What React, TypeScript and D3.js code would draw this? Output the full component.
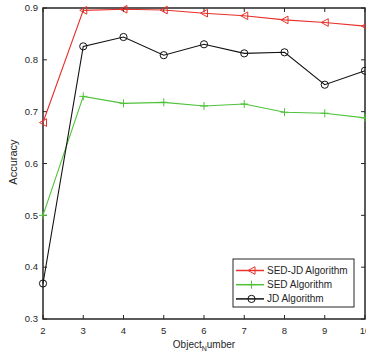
import React from 'react';
import * as d3 from 'd3';

const objectNumbers = [2, 3, 4, 5, 6, 7, 8, 9, 10];
const sedJd = [0.679, 0.8955, 0.8975, 0.896, 0.89, 0.885, 0.877, 0.872, 0.865];
const sed = [0.5, 0.7295, 0.716, 0.718, 0.711, 0.7147, 0.699, 0.697, 0.688];
const jd = [0.3685, 0.826, 0.844, 0.809, 0.83, 0.8125, 0.8145, 0.752, 0.779];
const yTicks = [0.3, 0.4, 0.5, 0.6, 0.7, 0.8, 0.9];
const legendNames = ['SED-JD Algorithm', 'SED Algorithm', 'JD Algorithm'];

const W = 366;
const H = 355;
const left = 43;
const right = 365;
const top = 8;
const bottom = 319;
const ink = '#262626';
const font = 'Liberation Sans, Arial, sans-serif';

const x = d3.scaleLinear().domain([2, 10]).range([left, right]);
const y = d3.scaleLinear().domain([0.3, 0.9]).range([bottom, top]);

const line = d3
    .line<number>()
    .x((d, i) => x(objectNumbers[i]))
    .y(d => y(d));

function Marker({kind, cx, cy, color}: {kind: string; cx: number; cy: number; color: string}) {
    if (kind === 'tri') {
        return <path d={`M${cx - 3.5},${cy} L${cx + 3.5},${cy - 3.8} L${cx + 3.5},${cy + 3.8} Z`} fill="none" stroke={color} strokeWidth={1} />;
    }
    if (kind === 'plus') {
        return <path d={`M${cx - 4},${cy} H${cx + 4} M${cx},${cy - 4} V${cy + 4}`} stroke={color} strokeWidth={1} />;
    }
    return <circle cx={cx} cy={cy} r={3.6} fill="none" stroke={color} strokeWidth={1} />;
}

const series = [
    {name: legendNames[0], values: sedJd, color: '#e8302a', kind: 'tri'},
    {name: legendNames[1], values: sed, color: '#4fc23a', kind: 'plus'},
    {name: legendNames[2], values: jd, color: '#111111', kind: 'circle'}
];

export default function App() {
    const lx = 233, ly = 259, lw = 121, lh = 48;
    return (
        <svg width={W} height={H} style={{position: 'absolute', left: 0, top: 0, background: '#fff'}}>
            <rect x={0} y={0} width={W} height={H} fill="#fff" />
            {/* ticks */}
            {yTicks.map(t => (
                <g key={'y' + t}>
                    <line x1={left} x2={left + 4} y1={y(t)} y2={y(t)} stroke={ink} />
                    <line x1={right} x2={right - 4} y1={y(t)} y2={y(t)} stroke={ink} />
                    <text x={left - 5} y={y(t)} dy="0.35em" textAnchor="end" fontSize={9.5} fontFamily={font} fill={ink}>
                        {d3.format('.1f')(t)}
                    </text>
                </g>
            ))}
            {objectNumbers.map(t => (
                <g key={'x' + t}>
                    <line x1={x(t)} x2={x(t)} y1={bottom} y2={bottom - 4} stroke={ink} />
                    <line x1={x(t)} x2={x(t)} y1={top} y2={top + 4} stroke={ink} />
                    <text x={x(t)} y={bottom + 15} textAnchor="middle" fontSize={9.5} fontFamily={font} fill={ink}>
                        {t}
                    </text>
                </g>
            ))}
            <rect x={left} y={top} width={right - left} height={bottom - top} fill="none" stroke={ink} strokeWidth={1.5} />

            {series.map(s => (
                <g key={s.name}>
                    <path d={line(s.values) || ''} fill="none" stroke={s.color} strokeWidth={1.1} />
                    {s.values.map((v, i) => (
                        <Marker key={i} kind={s.kind} cx={x(objectNumbers[i])} cy={y(v)} color={s.color} />
                    ))}
                </g>
            ))}

            <text transform={`translate(17,162) rotate(-90)`} textAnchor="middle" fontSize={11} fontFamily={font} fill={ink}>
                Accuracy
            </text>
            <text x={(left + right) / 2} y={348} textAnchor="middle" fontSize={10} fontFamily={font} fill={ink}>
                Object<tspan fontSize={7} dy={3}>N</tspan><tspan dy={-3}>umber</tspan>
            </text>

            <g>
                <rect x={lx} y={ly} width={lw} height={lh} fill="#fff" stroke={ink} strokeWidth={1} />
                {series.map((s, i) => {
                    const cy = ly + 11.5 + i * 14.2;
                    return (
                        <g key={'l' + s.name}>
                            <line x1={lx + 3} x2={lx + 31} y1={cy} y2={cy} stroke={s.color} strokeWidth={1.5} />
                            <Marker kind={s.kind} cx={lx + 18.5} cy={cy} color={s.color} />
                            <text x={lx + 34} y={cy} dy="0.35em" fontSize={10} fontFamily={font} fill={ink}>
                                {s.name}
                            </text>
                        </g>
                    );
                })}
            </g>
        </svg>
    );
}
